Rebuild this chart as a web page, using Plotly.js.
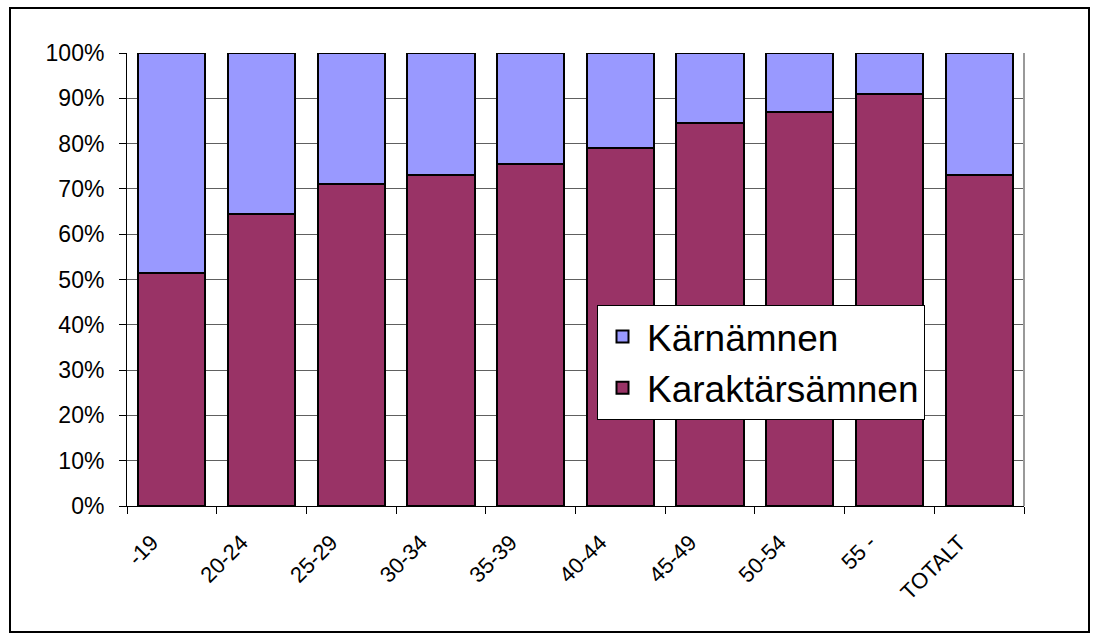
<!DOCTYPE html>
<html>
<head>
<meta charset="utf-8">
<script src="https://cdn.plot.ly/plotly-3.0.1.min.js"></script>
<style>
  html, body { margin: 0; padding: 0; background: #fff; }
  #chart { width: 1101px; height: 640px; }
</style>
</head>
<body>
<div id="chart"></div>
<script>
const categories = ['-19', '20-24', '25-29', '30-34', '35-39', '40-44', '45-49', '50-54', '55 -', 'TOTALT'];
const seriesNames = ['Karaktärsämnen', 'Kärnämnen'];
const karaktarsamnen = [51.5, 64.5, 71, 73, 75.5, 79, 84.5, 87, 91, 73];
const karnamnen = [48.5, 35.5, 29, 27, 24.5, 21, 15.5, 13, 9, 27];
const yTickValues = [0, 10, 20, 30, 40, 50, 60, 70, 80, 90, 100];

const fontFamily = 'Liberation Sans, Arial, sans-serif';

const traces = [
  {
    type: 'bar', name: seriesNames[0], x: categories, y: karaktarsamnen,
    marker: { color: '#993366', line: { color: '#000000', width: 2 } },
    hoverinfo: 'x+y+name'
  },
  {
    type: 'bar', name: seriesNames[1], x: categories, y: karnamnen,
    marker: { color: '#9999FF', line: { color: '#000000', width: 2 } },
    hoverinfo: 'x+y+name'
  }
];

const L = 127, R = 77, T = 53, B = 134;
const W = 1101, H = 640;
const pw = W - L - R, ph = H - T - B;
const px = v => (v - L) / pw;
const py = v => (H - B - v) / ph;

const layout = {
  width: W, height: H,
  margin: { l: L, r: R, t: T, b: B, pad: 0 },
  paper_bgcolor: '#ffffff',
  plot_bgcolor: '#ffffff',
  barmode: 'stack',
  bargap: 0.25,
  font: { family: fontFamily, color: '#000000', size: 20 },
  showlegend: true,
  legend: {
    x: px(597), y: py(305), xanchor: 'left', yanchor: 'top',
    bgcolor: '#ffffff', bordercolor: '#000000', borderwidth: 1,
    font: { family: fontFamily, size: 37, color: '#000000' },
    traceorder: 'reversed',
    itemwidth: 39
  },
  xaxis: {
    type: 'category',
    showline: true, linecolor: '#000000', linewidth: 1,
    ticks: 'outside', ticklen: 7, tickcolor: '#000000', tickwidth: 1,
    tickson: 'boundaries',
    tickangle: -45,
    ticklabelshift: -20,
    ticklabelstandoff: 14,
    tickfont: { family: fontFamily, size: 22, color: '#000000' },
    showgrid: false, zeroline: false, fixedrange: true
  },
  yaxis: {
    range: [0, 100],
    tickmode: 'array', tickvals: yTickValues,
    ticktext: yTickValues.map(v => v + '%'),
    showline: true, linecolor: '#000000', linewidth: 1,
    ticks: 'outside', ticklen: 7, tickcolor: '#000000', tickwidth: 1,
    ticklabelstandoff: 10,
    showgrid: true, gridcolor: '#606060', gridwidth: 1,
    zeroline: false,
    tickfont: { family: fontFamily, size: 23, color: '#000000' },
    fixedrange: true
  },
  shapes: [
    { type: 'line', xref: 'paper', yref: 'paper', x0: 1, x1: 1, y0: 0, y1: 1,
      line: { color: '#999999', width: 2 } },
    { type: 'rect', xref: 'paper', yref: 'paper',
      x0: px(10), x1: px(1089), y0: py(632), y1: py(8),
      line: { color: '#000000', width: 2 }, fillcolor: 'rgba(0,0,0,0)' }
  ]
};

Plotly.newPlot('chart', traces, layout, { displayModeBar: false, staticPlot: true });
</script>
</body>
</html>
